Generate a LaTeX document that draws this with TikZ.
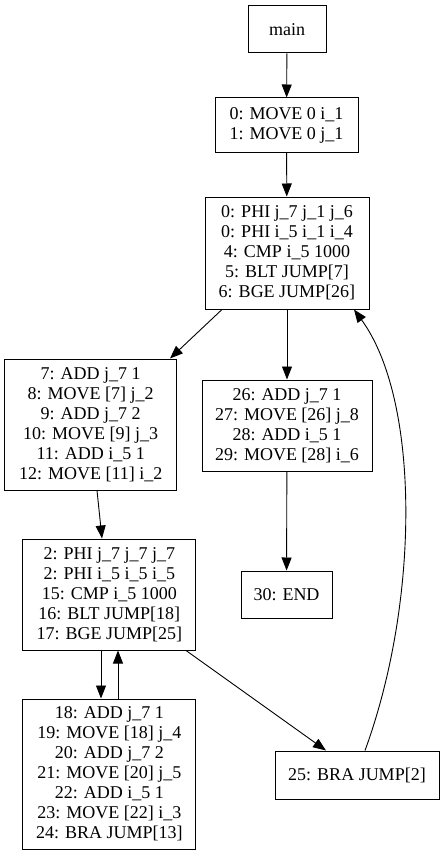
\documentclass[tikz,border=0pt]{standalone}
\usepackage{fontspec}
\setmainfont{Liberation Serif}
\usepackage{tikz}
\usetikzlibrary{arrows.meta}

\tikzset{
  blk/.style={draw, rectangle, line width=1pt, inner sep=0pt, align=center,
    font=\fontsize{18}{20}\selectfont},
  edge/.style={-{Triangle[length=13pt,width=10pt]}, line width=0.9pt}
}

\begin{document}
\begin{tikzpicture}[x=1pt,y=-1pt]
  \useasboundingbox (0,0) rectangle (444,856);
  \node[blk, minimum width=78pt, minimum height=47pt] (main) at (287,29.5) {main};
  \node[blk, minimum width=143pt, minimum height=54pt] (b0) at (286.5,125) {0: MOVE 0 i\_1\\1: MOVE 0 j\_1};
  \node[blk, minimum width=164pt, minimum height=112pt] (b1) at (287,253) {0: PHI j\_7 j\_1 j\_6\\0: PHI i\_5 i\_1 i\_4\\4: CMP i\_5 1000\\5: BLT JUMP[7]\\6: BGE JUMP[26]};
  \node[blk, minimum width=172pt, minimum height=131pt] (b2) at (90.7,424.5) {7: ADD j\_7 1\\8: MOVE [7] j\_2\\9: ADD j\_7 2\\10: MOVE [9] j\_3\\11: ADD i\_5 1\\12: MOVE [11] i\_2};
  \node[blk, minimum width=170pt, minimum height=91pt] (b3) at (287,425.5) {26: ADD j\_7 1\\27: MOVE [26] j\_8\\28: ADD i\_5 1\\29: MOVE [28] i\_6};
  \node[blk, minimum width=173pt, minimum height=111pt] (b4) at (109.3,594.5) {2: PHI j\_7 j\_7 j\_7\\2: PHI i\_5 i\_5 i\_5\\15: CMP i\_5 1000\\16: BLT JUMP[18]\\17: BGE JUMP[25]};
  \node[blk, minimum width=91pt, minimum height=47pt] (b5) at (286.5,594.5) {30: END};
  \node[blk, minimum width=173pt, minimum height=150pt] (b6) at (109.3,774) {18: ADD j\_7 1\\19: MOVE [18] j\_4\\20: ADD j\_7 2\\21: MOVE [20] j\_5\\22: ADD i\_5 1\\23: MOVE [22] i\_3\\24: BRA JUMP[13]};
  \node[blk, minimum width=164pt, minimum height=48pt] (b7) at (357,775) {25: BRA JUMP[2]};

  \draw[edge] (main) -- (b0);
  \draw[edge] (b0) -- (b1);
  \draw[edge] (b1.south west -| 222,0) -- (b2.north east -| 170,0);
  \draw[edge] (b1) -- (b3);
  \draw[edge] (b2.south -| 97,0) -- (b4.north -| 102,0);
  \draw[edge] (b3) -- (b5);
  \draw[edge] (b4.south -| 101,0) -- (b6.north -| 101,0);
  \draw[edge] (b6.north -| 118,0) -- (b4.south -| 118,0);
  \draw[edge] (b4.south -| 186,0) -- (b7.north -| 326,0);
  \draw[edge] (b7.north -| 365,0) .. controls (420,600) and (420,400) .. (b1.south -| 354,0);
\end{tikzpicture}
\end{document}
